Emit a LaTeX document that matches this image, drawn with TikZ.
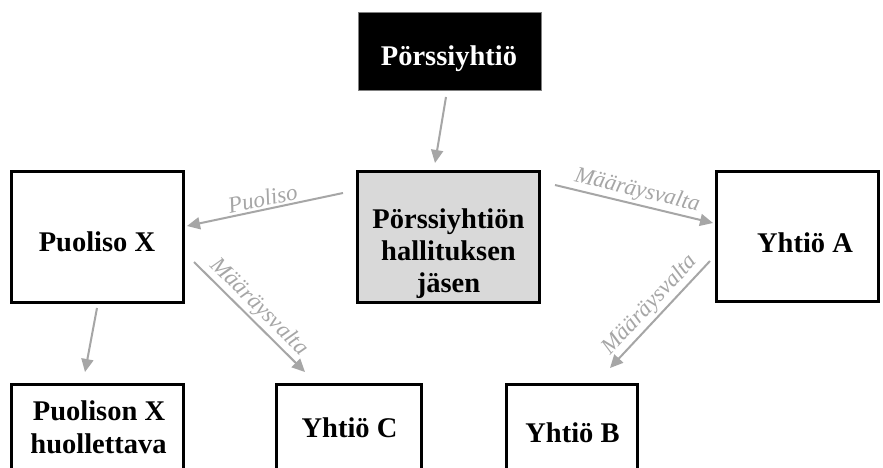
\documentclass[tikz,border=0pt]{standalone}
\usepackage{fontspec}
\setmainfont{Liberation Serif}
\usetikzlibrary{arrows.meta,calc}
\definecolor{arrgray}{HTML}{A6A6A6}
\definecolor{midgray}{HTML}{D9D9D9}
\begin{document}
\begin{tikzpicture}[x=1pt,y=-1pt,
  box/.style={draw=black,line width=3pt,fill=white,inner sep=0pt},
  topbox/.style={draw=gray,line width=1pt,fill=black,inner sep=0pt},
  btxt/.style={font=\fontsize{28.5}{32}\selectfont\bfseries,anchor=base,inner sep=0pt},
  conn/.style={draw=arrgray,line width=2pt,-{Triangle[length=13pt,width=12pt]}},
  lbl/.style={font=\fontsize{23}{26}\selectfont\itshape,text=arrgray,sloped,above,inner sep=2pt}]
\useasboundingbox (0,0) rectangle (883,468);
\fill[white] (0,0) rectangle (883,468);
\clip (0,0) rectangle (883,468);
% boxes
\node[topbox,minimum width=183pt,minimum height=78pt] (top) at (449.5,52) {};
\node[btxt,text=white] (topt) at (449,66) {Pörssiyhtiö};
\node[box,fill=midgray,minimum width=182pt,minimum height=131pt] (mid) at (448.5,236.5) {};
\node[btxt] (mid1) at (448.5,228) {Pörssiyhtiön};
\node[btxt] (mid2) at (448.5,260) {hallituksen};
\node[btxt] (mid3) at (448.5,292) {jäsen};
\node[box,minimum width=172pt,minimum height=131pt] (px) at (97.5,236.5) {};
\node[btxt] (pxt) at (97,251) {Puoliso X};
\node[box,minimum width=162pt,minimum height=130pt] (ya) at (797.5,236) {};
\node[btxt] (yat) at (805,252) {Yhtiö A};
\node[box,minimum width=172pt,minimum height=130pt] (hx) at (97.5,449.5) {};
\node[btxt] (hx1) at (99,420) {Puolison X};
\node[btxt] (hx2) at (98.5,453) {huollettava};
\node[box,minimum width=145pt,minimum height=130pt] (yc) at (349,449.5) {};
\node[btxt] (yct) at (349.5,437) {Yhtiö C};
\node[box,minimum width=131pt,minimum height=130pt] (yb) at (572,449.5) {};
\node[btxt] (ybt) at (572.5,442) {Yhtiö B};
% connectors
\draw[conn] ($(top.center)+(-3.5,45)$) -- ($(mid.center)+(-13.5,-73.5)$);
\draw[conn] ($(mid.center)+(-105.5,-43.5)$) -- node[lbl] {Puoliso} ($(px.center)+(89.5,-10.5)$);
\draw[conn] ($(mid.center)+(106.5,-51.5)$) -- node[lbl] {Määräysvalta} ($(ya.center)+(-84.5,-13)$);
\draw[conn] ($(px.center)+(96.5,25.5)$) -- node[lbl] {Määräysvalta} ($(yc.center)+(-44,-77.5)$);
\draw[conn] ($(ya.center)+(-87.5,25)$) -- node[lbl] {Määräysvalta} ($(yb.center)+(38,-81.5)$);
\draw[conn] ($(px.center)+(-0.5,71.5)$) -- ($(hx.center)+(-12.5,-77.5)$);
\end{tikzpicture}
\end{document}
